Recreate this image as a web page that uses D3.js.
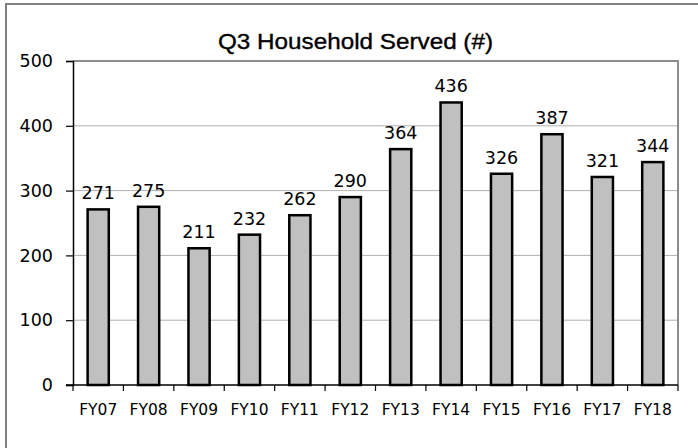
<!DOCTYPE html>
<html>
<head>
<meta charset="utf-8">
<script src="https://cdn.jsdelivr.net/npm/d3@7"></script>
<style>
  body { margin: 0; background: #fff; overflow: hidden; }
  text { fill: #000; }
  .num { font-family: "DejaVu Sans", Verdana, sans-serif; }
</style>
</head>
<body>
<div id="chart"></div>
<script>
var categories = ["FY07", "FY08", "FY09", "FY10", "FY11", "FY12", "FY13", "FY14", "FY15", "FY16", "FY17", "FY18"];
var served = [271, 275, 211, 232, 262, 290, 364, 436, 326, 387, 321, 344];
var yTicks = [0, 100, 200, 300, 400, 500];

var W = 698, H = 448;
var margin = {top: 61, right: 20, bottom: 63, left: 73};
var width = W - margin.left - margin.right,
    height = H - margin.top - margin.bottom;

var svg = d3.select("#chart").append("svg")
  .attr("width", W)
  .attr("height", H)
  .style("display", "block");

// outer frame (right and bottom edges fall outside the picture)
svg.append("rect")
  .attr("x", 6).attr("y", 4)
  .attr("width", 720).attr("height", 470)
  .attr("fill", "#fff")
  .attr("stroke", "#808080")
  .attr("stroke-width", 2);

svg.append("text")
  .attr("x", 355.5).attr("y", 49)
  .attr("text-anchor", "middle")
  .attr("textLength", 275)
  .attr("lengthAdjust", "spacingAndGlyphs")
  .style("font-family", "'Liberation Sans', Arial, sans-serif")
  .style("font-size", "21.5px")
  .style("stroke", "#000")
  .style("stroke-width", 0.35)
  .text("Q3 Household Served (#)");

var g = svg.append("g").attr("transform", "translate(" + margin.left + "," + margin.top + ")");

var x = d3.scaleBand().domain(categories).range([0, width]).paddingInner(0.58).paddingOuter(0.29);
var y = d3.scaleLinear().domain([0, 500]).range([height, 0]);

// gridlines
g.selectAll(".grid").data(yTicks.slice(1, -1))
  .enter().append("line")
  .attr("x1", 0).attr("x2", width)
  .attr("y1", function(d){ return y(d); })
  .attr("y2", function(d){ return y(d); })
  .attr("stroke", "#b0b0b0")
  .attr("stroke-width", 1);

// plot area top and right border
g.append("path")
  .attr("d", "M0," + y(500) + "H" + width + "V" + height)
  .attr("fill", "none")
  .attr("stroke", "#8c8c8c")
  .attr("stroke-width", 2);

// bars
g.selectAll(".bar").data(served)
  .enter().append("rect")
  .attr("x", function(d, i){ return x(categories[i]); })
  .attr("y", function(d){ return y(d); })
  .attr("width", x.bandwidth())
  .attr("height", function(d){ return height - y(d); })
  .attr("fill", "#c0c0c0")
  .attr("stroke", "#000")
  .attr("stroke-width", 2.5);

// value labels
g.selectAll(".lbl").data(served)
  .enter().append("text")
  .attr("class", "num")
  .attr("x", function(d, i){ return x(categories[i]) + x.bandwidth() / 2; })
  .attr("y", function(d){ return y(d) - 10; })
  .attr("text-anchor", "middle")
  .style("font-size", "17.5px")
  .text(function(d){ return d; });

// y axis
var yAxis = g.append("g")
  .call(d3.axisLeft(y).tickValues(yTicks).tickSize(7).tickPadding(13));
yAxis.select(".domain").attr("stroke", "#000").attr("stroke-width", 1.5);
yAxis.selectAll(".tick line").attr("stroke-width", 1.2);
yAxis.selectAll("text").attr("class", "num").style("font-size", "17.5px").attr("fill", "#000");

// x axis
var xg = g.append("g").attr("transform", "translate(0," + height + ")");
xg.append("line").attr("x1", -7).attr("x2", width).attr("stroke", "#000").attr("stroke-width", 1.5);
var edges = d3.range(categories.length + 1).map(function(i){ return i * x.step(); });
xg.selectAll(".tk").data(edges)
  .enter().append("line")
  .attr("x1", function(d){ return d; }).attr("x2", function(d){ return d; })
  .attr("y1", 0).attr("y2", 6)
  .attr("stroke", "#000")
  .attr("stroke-width", 1.2);
xg.selectAll(".xl").data(categories)
  .enter().append("text")
  .attr("class", "num")
  .attr("x", function(d){ return x(d) + x.bandwidth() / 2; })
  .attr("y", 30)
  .attr("text-anchor", "middle")
  .style("font-size", "15.5px")
  .text(function(d){ return d; });
</script>
</body>
</html>
